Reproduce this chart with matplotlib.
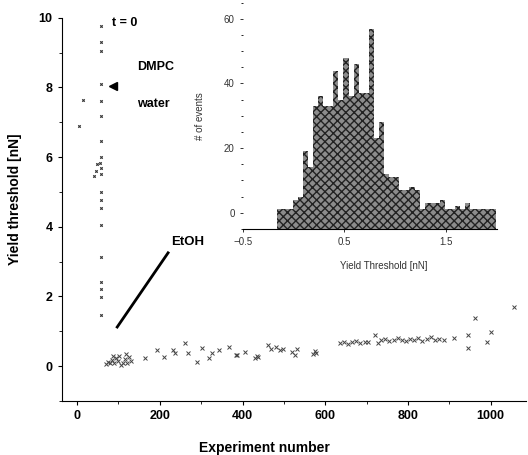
import numpy as np
import matplotlib
matplotlib.use('Agg')
import matplotlib.pyplot as plt

plt.rcParams['font.family'] = ['Liberation Sans', 'DejaVu Sans']

# points at t = 0 (vertical column) and before
t0_x = [57, 58, 57, 57, 58, 57, 58, 57, 56, 57, 58, 57, 57, 58, 57, 57, 58, 57, 57, 58,
        14, 4, 45, 48, 42]
t0_y = [9.76, 9.3, 9.04, 8.09, 7.6, 7.17, 6.45, 5.99, 5.84, 5.70, 5.50, 5.01, 4.78, 4.55,
        4.06, 3.14, 2.42, 2.22, 1.99, 1.47,
        7.65, 6.9, 5.6, 5.8, 5.45]

# experiments after EtOH
exp_x = [70, 75, 80, 85, 88, 90, 95, 100, 102, 105, 110, 115, 118, 120, 125, 130,
         163, 192, 211, 231, 236, 260, 267, 289, 301, 320, 327, 344, 368, 385,
         387, 405, 430, 434, 438, 461, 470, 482, 490, 497, 520, 526, 532, 570, 574, 578,
         635, 645, 655, 665, 675, 685, 695, 703, 720, 728,
         735, 745, 755, 765, 775, 785, 795, 805, 815, 825, 835, 845, 855, 865, 875, 888,
         912, 944, 944, 961, 992, 1001, 1057]
exp_y = [0.05, 0.12, 0.08, 0.18, 0.28, 0.10, 0.22, 0.15, 0.30, 0.02, 0.10, 0.20, 0.35, 0.08, 0.25, 0.15,
         0.23, 0.46, 0.27, 0.46, 0.37, 0.66, 0.37, 0.12, 0.52, 0.23, 0.37, 0.46, 0.55, 0.32,
         0.32, 0.40, 0.22, 0.30, 0.26, 0.60, 0.50, 0.55, 0.45, 0.50, 0.40, 0.32, 0.48, 0.35, 0.42, 0.38,
         0.66, 0.70, 0.64, 0.68, 0.72, 0.66, 0.70, 0.68, 0.89, 0.66,
         0.74, 0.78, 0.72, 0.76, 0.80, 0.74, 0.72, 0.78, 0.75, 0.80, 0.73, 0.77, 0.82, 0.74, 0.78, 0.75,
         0.80, 0.89, 0.52, 1.38, 0.69, 0.98, 1.70]

etoh_x = [97, 220]
etoh_y = [1.12, 3.25]

# inset histogram: yield threshold [nN]
bin_left = np.round(np.arange(-0.16, 1.99, 0.05), 3)
counts = [1, 1, 1, 4, 5, 19, 14, 33, 36, 33, 33, 44, 35, 48, 36, 46, 37, 37, 57, 23, 28,
          12, 11, 11, 7, 7, 8, 7, 1, 3, 3, 3, 4, 1, 1, 2, 1, 3, 1, 1, 1, 1, 1]

fig = plt.figure(figsize=(5.28, 4.55), dpi=100)
ax = fig.add_axes([0.117, 0.119, 0.879, 0.842])

ax.plot(t0_x, t0_y, 'x', color='#333333', ms=1.8, mew=0.8)
ax.plot(exp_x, exp_y, 'x', color='#444444', ms=2.5, mew=0.7)
ax.plot(etoh_x, etoh_y, color='black', lw=2)
ax.plot([86], [8.03], marker='<', color='black', ms=6)

ax.text(84, 9.84, 't = 0', fontsize=9, fontweight='bold', va='center')
ax.text(146, 8.58, 'DMPC', fontsize=9, fontweight='bold', va='center')
ax.text(146, 7.51, 'water', fontsize=9, fontweight='bold', va='center')
ax.text(228, 3.57, 'EtOH', fontsize=9.5, fontweight='bold', va='center')

ax.set_xlim(-37, 1085)
ax.set_ylim(-1, 10)
ax.set_xticks([0, 200, 400, 600, 800, 1000])
ax.set_xticks(np.arange(100, 1100, 200), minor=True)
ax.set_yticks([0, 2, 4, 6, 8, 10])
ax.set_yticks([-1, 1, 3, 5, 7, 9], minor=True)
ax.tick_params(labelsize=9, length=3, width=0.8)
ax.tick_params(which='minor', length=2)
for lab in ax.get_xticklabels() + ax.get_yticklabels():
    lab.set_fontweight('bold')
ax.spines['top'].set_visible(False)
ax.spines['right'].set_visible(False)
ax.set_xlabel('Experiment number', fontsize=10, fontweight='bold')
ax.set_ylabel('Yield threshold [nN]', fontsize=10, fontweight='bold')
ax.xaxis.set_label_coords(0.4375, -0.105)
ax.yaxis.set_label_coords(-0.085, 0.525)

# inset
ins = fig.add_axes([0.460, 0.497, 0.481, 0.497])
ylow = -5
ins.bar(bin_left, np.array(counts) - ylow, bottom=ylow, width=0.05, align='edge',
        color='#8c8c8c', edgecolor='#222222', hatch='xxxx', linewidth=0)
ins.set_xlim(-0.5, 2.0)
ins.set_ylim(ylow, 65)
ins.set_xticks([-0.5, 0.5, 1.5])
ins.set_yticks([0, 20, 40, 60])
ins.set_yticks(np.arange(-5, 66, 5), minor=True)
ins.tick_params(labelsize=7, length=2.5, width=0.7, colors='#333333')
ins.tick_params(which='minor', length=1.5)
ins.spines['top'].set_visible(False)
ins.spines['right'].set_visible(False)
ins.spines['left'].set_visible(False)
ins.patch.set_alpha(0)
ins.set_ylabel('# of events', fontsize=7, color='#333333', labelpad=2)
ins.set_xlabel('Yield Threshold [nN]', fontsize=7, color='#333333')
ins.xaxis.set_label_coords(0.555, -0.14)
ins.yaxis.set_label_coords(-0.15, 0.5)

plt.savefig('out.png', dpi=100)
